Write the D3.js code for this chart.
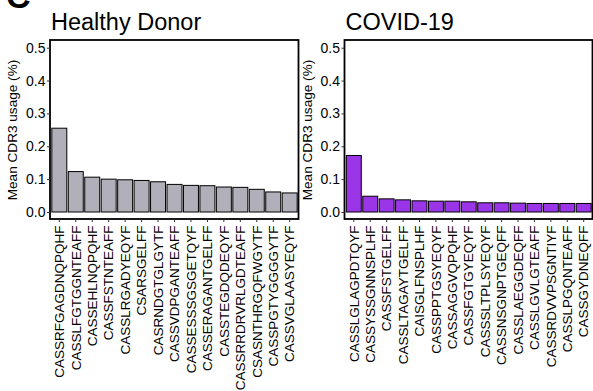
<!DOCTYPE html>
<html>
<head>
<meta charset="utf-8">
<script src="https://cdn.jsdelivr.net/npm/d3@7"></script>
<style>
  body { margin: 0; background: #fff; }
  text { font-family: "Liberation Sans", Arial, Helvetica, sans-serif; fill: #000; }
</style>
</head>
<body>
<div class="chart"></div>
<script>
const hdLabels = [
  'CASSRFGAGDNQPQHF', 'CASSLFGTGGNTEAFF', 'CASSEHLNQPQHF', 'CASSFSTNTEAFF',
  'CASSLRGADYEQYF', 'CSARSGELFF', 'CASRNDGTGLGYTF', 'CASSVDPGANTEAFF',
  'CASSESSSGSGETQYF', 'CASSERAGANTGELFF', 'CASSTEGDQDEQYF', 'CASSRRDRVRLGDTEAFF',
  'CSASNTHRGQFWGYTF', 'CASSPGTYGGGGYTF', 'CASSVGLAASYEQYF'
];
const hdValues = [0.255, 0.123, 0.106, 0.100, 0.098, 0.096, 0.092, 0.084,
  0.081, 0.080, 0.076, 0.075, 0.069, 0.061, 0.058];

const covidLabels = [
  'CASSLGLAGPDTQYF', 'CASSYSSGNNSPLHF', 'CASSFSTGELFF', 'CASSLTAGAYTGELFF',
  'CAISGLFNSPLHF', 'CASSPPTGSYEQYF', 'CASSAGGVQPQHF', 'CASSFGTGYEQYF',
  'CASSSLTPLSYEQYF', 'CASSNSGNPTGEQFF', 'CASSLAEGGDEQFF', 'CASSLGVLGTEAFF',
  'CASSRDVVPSGNTIYF', 'CASSLPGQNTEAFF', 'CASSGYDNEQFF'
];
const covidValues = [0.172, 0.048, 0.040, 0.037, 0.034, 0.033, 0.033, 0.031,
  0.028, 0.028, 0.027, 0.026, 0.026, 0.026, 0.026];

const yTicks = [0, 0.1, 0.2, 0.3, 0.4, 0.5];

const width = 593, height = 391;

const svg = d3.select('.chart').append('svg')
  .attr('width', width)
  .attr('height', height);

// panel letter, cut off at the top like in the figure
svg.append('text')
  .attr('x', 6)
  .attr('y', 8)
  .style('font-size', '34px')
  .style('font-weight', 'bold')
  .text('C');

function drawPanel(x0, x1, title, labels, values, color) {
  const top = 40, bottom = 219;

  const x = d3.scaleBand()
    .domain(labels)
    .range([x0 + 1.5, x1 - 1])
    .paddingInner(0.09)
    .paddingOuter(0.02);

  // ggplot style expansion below 0 and above 0.5
  const y = d3.scaleLinear()
    .domain([-0.0213, 0.5234])
    .range([bottom, top]);

  const g = svg.append('g');

  g.append('text')
    .attr('x', x0 + 1)
    .attr('y', 30)
    .style('font-size', '23.5px')
    .text(title);

  g.selectAll('.bar')
    .data(values)
    .enter().append('rect')
    .attr('class', 'bar')
    .attr('x', (d, i) => x(labels[i]))
    .attr('y', d => y(d))
    .attr('width', x.bandwidth())
    .attr('height', d => y(0) - y(d))
    .attr('fill', color)
    .attr('stroke', '#000')
    .attr('stroke-width', 1);

  // box
  g.append('rect')
    .attr('x', x0)
    .attr('y', top)
    .attr('width', x1 - x0)
    .attr('height', bottom - top)
    .attr('fill', 'none')
    .attr('stroke', '#000')
    .attr('stroke-width', 1.8);

  const yAxis = g.append('g')
    .attr('transform', `translate(${x0},0)`)
    .call(d3.axisLeft(y).tickValues(yTicks).tickFormat(d3.format('.1f')).tickSize(3).tickPadding(1.5));
  yAxis.select('.domain').remove();
  yAxis.selectAll('text').style('font-size', '14px');
  yAxis.selectAll('line').attr('stroke', '#333');

  const xAxis = g.append('g')
    .attr('transform', `translate(0,${bottom})`)
    .call(d3.axisBottom(x).tickSize(3).tickPadding(2));
  xAxis.select('.domain').remove();
  xAxis.selectAll('line').attr('stroke', '#333');
  xAxis.selectAll('text')
    .style('font-size', '13.5px')
    .attr('text-anchor', 'end')
    .attr('transform', 'rotate(-90)')
    .attr('x', -6.5)
    .attr('y', 0)
    .attr('dy', '0.35em');

  g.append('text')
    .attr('transform', `translate(${x0 - 33},130) rotate(-90)`)
    .attr('text-anchor', 'middle')
    .style('font-size', '13.6px')
    .text('Mean CDR3 usage (%)');
}

drawPanel(50, 298.5, 'Healthy Donor', hdLabels, hdValues, '#b0afba');
drawPanel(344.5, 592.5, 'COVID-19', covidLabels, covidValues, '#9a35e8');
</script>
</body>
</html>
